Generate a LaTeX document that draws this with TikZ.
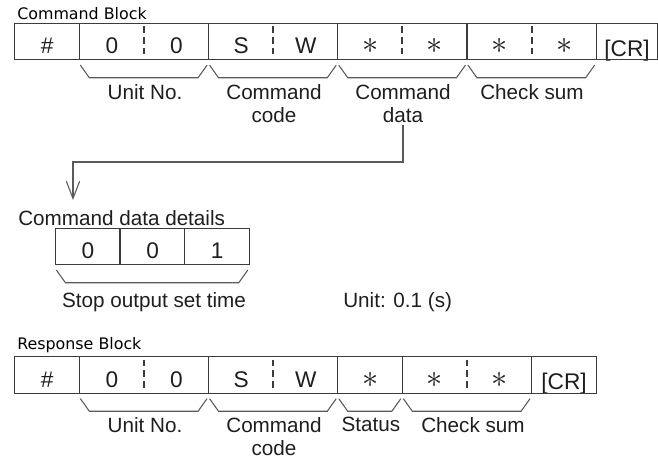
\documentclass[tikz,border=0pt]{standalone}
\usepackage{fontspec}
\setmainfont{Liberation Sans}
\newfontfamily\blockfont{DejaVu Sans}
\usetikzlibrary{arrows.meta}
\definecolor{Ink}{HTML}{1E1E1E}
\definecolor{Frame}{HTML}{3C3C3C}
\definecolor{Guide}{HTML}{5A5A5A}
\newcommand{\astk}{\scalebox{1.4}{$\ast$}}

\tikzset{
  slot/.style={minimum width=48.45pt,minimum height=27pt,inner sep=0pt,
    text height=18pt,text depth=0pt,text=Ink,font=\fontsize{17}{20}\selectfont},
  lbl/.style={anchor=north,align=center,inner sep=0pt,text=Ink,
    font=\fontsize{15.5}{17.3}\selectfont},
  title/.style={anchor=base west,inner sep=0pt,text=black,
    font=\blockfont\fontsize{11.9}{14}\selectfont},
  frame/.style={draw=Frame,line width=1pt},
  half/.style={draw=Frame,line width=1.5pt,dash pattern=on 5pt off 3pt},
  brace/.style={draw=Guide,line width=0.8pt},
  link/.style={draw=Guide,line width=0.8pt,-{Straight Barb[length=13pt,width=10pt]}}
}

\begin{document}
\begin{tikzpicture}[x=0.75pt,y=-0.75pt]
    \useasboundingbox (0,0) rectangle (658,461);
    % command block
    \node[title] (cmdtitle) at (17,19) {Command Block};
    \foreach \i/\ch in {0/\#,1/0,2/0,3/S,4/W,5/\astk,6/\astk,7/\astk,8/\astk}
      \node[slot] (cmd\i) at ({47.3+64.6*\i},41.5) {\ch};
    \node[slot,minimum width=45pt] (cmd9) at (627,41.5) {\raisebox{-2.5pt}{[CR]}};
    \draw[frame] (cmd0.north west) rectangle (cmd9.south east);
    \foreach \i in {1,3,5,7,9}
      \draw[frame] (cmd\i.north west) -- (cmd\i.south west);
    \foreach \i in {2,4,6,8}
      \draw[half] ([yshift=-2.25pt]cmd\i.north west) -- ([yshift=3.75pt]cmd\i.south west);
    \node[lbl] (cmdunit) at (145,84) {Unit No.};
    \node[lbl] (cmdcode) at (274,84) {Command\\code};
    \node[lbl] (cmddata) at (403,84) {Command\\data};
    \node[lbl] (cmdsum) at (532,84) {Check sum};

    % command data details
    \coordinate (turn) at (73,162);
    \coordinate (tip) at (73,200);
    \draw[link] ([yshift=-2pt]cmddata.south) |- (turn) -- (tip);
    \node[lbl,anchor=north west] (dettitle) at (18,210) {Command data details};
    \foreach \i/\ch in {0/0,1/0,2/1}
      \node[slot] (det\i) at ({88+64.6*\i},246.5) {\ch};
    \draw[frame] (det0.north west) rectangle (det2.south east);
    \foreach \i in {1,2}
      \draw[frame] (det\i.north west) -- (det\i.south west);
    \node[lbl] (detnote) at (154,292) {Stop output set time};
    \node[lbl,anchor=north west] (detunit) at (343,292) {Unit: 0.1 (s)};

    % response block
    \node[title] (restitle) at (17,349) {Response Block};
    \foreach \i/\ch in {0/\#,1/0,2/0,3/S,4/W,5/\astk,6/\astk,7/\astk}
      \node[slot] (res\i) at ({47.3+64.6*\i},375) {\ch};
    \node[slot] (res8) at ({47.3+64.6*8},375) {\raisebox{-1.5pt}{[CR]}};
    \draw[frame] (res0.north west) rectangle (res8.south east);
    \foreach \i in {1,3,5,6,8}
      \draw[frame] (res\i.north west) -- (res\i.south west);
    \foreach \i in {2,4,7}
      \draw[half] ([yshift=-2.25pt]res\i.north west) -- ([yshift=3.75pt]res\i.south west);
    \node[lbl] (resunit) at (145,417) {Unit No.};
    \node[lbl] (rescode) at (274,417) {Command\\code};
    \node[lbl] (resstatus) at (371,417) {Status};
    \node[lbl] (ressum) at (473,417) {Check sum};

    % braces under the fields
    \foreach \a/\b in {cmd1/cmd2,cmd3/cmd4,cmd5/cmd6,cmd7/cmd8,det0/det2,res1/res2,res3/res4,res5/res5,res6/res7}
      \draw[brace] ([shift={(0.75pt,-4pt)}]\a.south west) -- ++(6.75pt,-9.5pt)
        -- ([shift={(-8.25pt,-13.5pt)}]\b.south east) -- ([shift={(-1.5pt,-4pt)}]\b.south east);
\end{tikzpicture}
\end{document}
